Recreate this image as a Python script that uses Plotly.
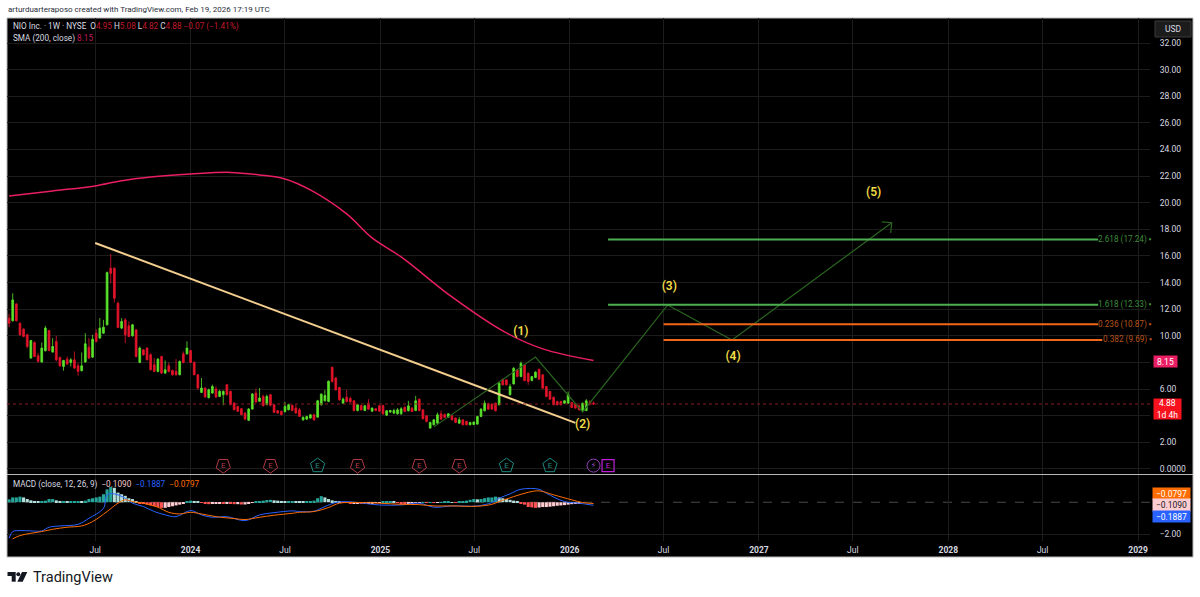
import pandas as pd
import plotly.graph_objects as go

# weekly bars, last one is the week of 2026-02-16
bar_dates = pd.date_range(end="2026-02-16", periods=162, freq="7D")

opens = [11.33,11.13,12.4,10.95,10.5,10.08,8.33,9.5,8.5,8.03,8.88,10.4,8.78,9.58,8.38,7.7,8.25,8.0,8.2,7.75,7.38,8.03,9.15,8.4,10.2,9.83,10.2,
         10.83,15.08,15.08,12.45,10.58,11.2,10.75,10.0,10.45,8.0,8.95,9.08,8.58,7.83,7.33,8.45,7.2,7.75,7.4,7.33,7.08,8.65,8.65,8.9,8.0,7.08,5.75,
         6.08,5.35,5.7,6.0,5.45,5.58,6.33,5.83,4.95,4.7,4.53,4.2,3.65,4.5,5.7,5.08,5.45,4.83,5.58,4.83,4.38,4.33,4.3,4.45,4.78,4.58,4.45,
         3.69,3.74,3.82,4.07,3.89,4.82,5.12,5.07,7.64,6.84,6.12,4.94,5.39,5.29,5.12,4.39,4.77,4.39,4.94,4.34,4.52,4.74,4.77,4.04,4.27,4.19,4.14,
         4.14,4.62,4.37,4.57,4.39,5.24,4.44,3.99,3.07,3.32,3.44,4.14,4.09,3.89,3.99,3.82,3.44,3.69,3.57,3.32,3.34,3.37,3.94,4.37,4.89,4.87,4.94,
         4.82,6.74,6.69,5.57,6.39,7.44,6.94,7.82,7.19,6.64,6.87,7.49,7.07,6.19,5.82,5.39,5.07,5.07,4.94,4.94,4.99,4.89,4.74,4.39,4.39,5.02,4.95]
highs = [11.65,13.2,12.45,11.0,10.58,10.15,9.7,9.58,8.7,9.5,10.75,10.45,9.83,10.0,8.45,8.2,8.45,8.33,8.83,7.95,8.75,10.2,9.83,10.08,10.5,11.33,11.2,
         14.83,16.15,15.15,12.58,11.33,11.33,11.08,10.9,10.5,9.2,9.0,9.15,8.7,8.33,8.33,8.5,8.15,8.0,7.45,8.25,8.15,8.83,9.58,8.95,8.08,7.13,6.83,
         6.13,6.03,6.33,6.2,5.95,5.9,6.38,5.88,5.0,4.75,4.58,4.25,4.58,5.7,6.03,6.08,5.58,5.58,5.63,4.88,4.43,4.38,5.03,4.9,4.83,4.83,4.58,
         3.96,4.0,4.12,4.14,5.19,5.69,5.94,6.64,7.69,6.89,6.17,5.37,5.94,5.44,5.19,4.87,4.82,4.82,5.24,4.62,4.57,4.82,4.82,4.42,4.44,4.52,4.57,
         4.64,4.74,5.12,4.64,5.49,5.29,4.49,4.04,3.56,3.74,4.24,4.39,4.17,4.19,4.04,3.87,3.89,3.74,3.62,3.54,3.57,3.99,4.57,5.14,4.99,4.94,4.99,
         6.57,6.79,6.74,6.39,7.64,7.49,8.07,7.89,7.24,6.99,7.34,7.54,7.12,6.24,5.87,5.44,5.12,5.12,5.17,5.82,5.04,4.94,4.79,4.99,5.24,5.17,5.08]
lows = [10.65,11.08,11.08,10.0,9.9,9.08,8.28,8.4,8.0,8.0,8.83,8.83,8.75,8.08,7.65,7.38,7.83,7.7,7.5,7.0,7.33,8.0,8.25,8.35,9.5,9.78,10.15,
        10.78,13.95,12.5,10.58,10.5,9.45,9.9,9.95,8.38,7.95,8.5,8.15,7.4,7.28,7.25,7.15,7.13,7.25,7.0,7.0,7.03,7.95,8.58,7.95,7.03,5.95,5.7,
        5.35,5.3,5.65,5.33,5.4,4.78,5.5,4.78,4.4,4.28,4.03,3.65,3.6,4.45,4.95,5.03,4.7,4.78,4.7,4.2,4.15,4.03,4.25,4.4,4.35,4.15,3.9,
        3.62,3.7,3.78,3.62,3.86,4.77,5.07,5.02,6.49,5.89,5.12,4.89,4.99,4.94,4.32,4.32,4.37,4.34,4.44,4.29,4.34,4.29,4.07,3.97,4.22,4.14,4.09,
        4.07,4.27,4.32,4.27,4.34,4.32,3.72,3.49,3.02,3.27,3.39,3.69,3.82,3.84,3.64,3.44,3.39,3.27,3.27,3.27,3.29,3.32,3.89,4.32,4.44,4.44,4.32,
        4.77,6.27,6.27,5.52,6.34,6.89,6.89,6.59,6.32,6.59,6.82,6.69,6.02,5.39,5.19,4.77,4.77,4.77,4.89,4.89,4.57,4.52,4.39,4.32,4.34,4.77,4.82]
closes = [10.95,12.7,11.13,10.08,9.95,9.2,9.65,8.45,8.08,9.08,10.58,8.9,9.2,8.2,7.75,8.15,7.88,8.2,7.58,7.33,7.75,9.4,8.33,9.75,9.58,10.58,10.65,
          14.75,14.7,12.83,10.63,11.08,10.08,9.95,10.83,8.45,9.08,8.58,8.2,7.45,7.33,8.25,7.2,7.45,7.33,7.08,7.08,8.08,8.0,9.08,8.0,7.08,6.08,6.08,
          5.4,5.95,6.2,5.4,5.83,5.83,5.58,4.83,4.45,4.33,4.08,3.75,4.5,5.63,5.03,5.33,4.75,5.45,4.78,4.25,4.2,4.08,4.7,4.83,4.4,4.2,3.95,
          3.87,3.94,4.07,3.69,5.12,5.62,5.52,6.59,6.57,5.94,5.19,5.24,5.07,5.04,4.39,4.82,4.44,4.74,4.49,4.57,4.39,4.34,4.14,4.37,4.39,4.39,4.44,
          4.52,4.32,4.74,4.32,5.12,4.39,3.77,3.57,3.49,3.69,4.07,3.74,3.87,4.14,3.69,3.49,3.69,3.32,3.32,3.49,3.52,3.94,4.49,4.94,4.49,4.49,4.37,
          6.44,6.32,6.32,6.19,7.57,6.94,7.94,6.64,6.57,6.94,7.27,6.74,6.07,5.44,5.24,4.82,4.82,4.82,5.12,5.57,4.62,4.57,4.44,4.94,5.12,4.95,4.88]

sma_dates = ["2023-01-16","2023-04-10","2023-07-01","2023-08-18","2023-10-16","2024-01-01","2024-03-18","2024-05-13","2024-07-01","2024-08-19",
             "2024-10-28","2024-12-16","2025-02-10","2025-05-19","2025-08-25","2025-11-10","2026-02-16"]
sma_vals = [20.51,20.89,21.26,21.64,21.94,22.16,22.28,22.09,21.79,20.96,19.16,17.36,15.93,12.92,10.37,9.02,8.15]

trend_dates = ["2023-07-01","2026-01-12"]
trend_vals = [16.98,3.46]

wave_dates = ["2025-04-14","2025-10-27","2026-01-26","2026-07-09","2026-11-10","2027-09-14"]
wave_vals = [3.16,8.41,4.28,12.32,9.69,18.5]
arrow_dates = ["2027-08-26","2027-09-14","2027-09-12"]
arrow_vals = [18.56,18.5,17.73]

wave_labels = ["(1)","(2)","(3)","(4)","(5)"]
wave_label_dates = ["2025-09-29","2026-01-26","2026-07-12","2026-11-12","2027-08-10"]
wave_label_vals = [10.3,3.3,13.7,8.4,20.7]

fib_labels = ["2.618 (17.24)","1.618 (12.33)","0.236 (10.87)","0.382 (9.69)"]
fib_vals = [17.24,12.33,10.87,9.69]
fib_starts = ["2026-03-16","2026-03-16","2026-07-01","2026-07-01"]
fib_ends = ["2028-10-16","2028-10-16","2028-10-16","2028-10-24"]
fib_colors = ["#4CAF50","#4CAF50","#F2661A","#F2661A"]
fib_text_colors = ["#3F8A3C","#3F8A3C","#B8531A","#B8531A"]

earn_bad = ["2024-03-04","2024-06-03","2024-11-18","2025-03-17","2025-06-02"]
earn_good = ["2024-09-02","2025-09-01","2025-11-24"]

# MACD pane lines, sampled at these bar numbers
macd_idx = [0,1,3,6,9,11,14,19,22,26,27,29,32,34,37,40,43,46,50,53,56,60,65,69,73,78,80,84,87,90,92,96,102,108,113,117,122,129,133,135,138,141,146,148,153,157,161]
macd_vals = [-2.25,-1.83,-1.77,-1.79,-1.79,-1.56,-1.48,-1.38,-1.0,-0.38,0.46,0.52,0.25,-0.06,-0.27,-0.58,-0.79,-0.9,-0.52,-0.79,-0.94,-0.9,-1.15,-0.79,-0.65,-0.54,-0.58,
             -0.56,-0.27,-0.02,0.04,-0.02,-0.17,-0.17,-0.06,-0.31,-0.23,-0.23,-0.02,0.25,0.52,0.81,0.81,0.56,0.04,-0.06,-0.19]
signal_idx = [1,3,6,9,12,16,20,23,27,30,32,34,37,41,44,47,50,53,57,62,65,69,73,78,80,84,88,91,96,102,108,113,117,122,129,133,135,139,143,146,150,155,158,161]
signal_vals = [-2.29,-2.08,-1.94,-1.83,-1.69,-1.56,-1.48,-1.21,-0.58,-0.06,0.15,0.04,-0.06,-0.31,-0.63,-0.73,-0.63,-0.73,-0.9,-1.02,-1.08,-0.94,-0.81,-0.69,-0.63,
               -0.58,-0.33,-0.06,-0.02,-0.06,-0.13,-0.15,-0.23,-0.23,-0.25,-0.13,0.04,0.35,0.62,0.71,0.46,0.15,-0.02,-0.08]

hist_vals = [.18,.3,.3,.35,.3,.2,.12,.08,.05,.05,.1,.2,.2,.12,.08,.08,.06,.06,.06,.06,.05,.1,.2,.25,.3,.35,.5,.8,.95,.9,.6,.5,.4,.25,.2,.05,
             -.05,-.1,-.15,-.2,-.25,-.3,-.35,-.35,-.3,-.25,-.2,-.15,-.05,.06,.1,.08,.02,-.04,-.1,-.12,-.1,-.1,-.08,-.1,-.08,-.1,-.12,-.12,-.14,-.14,-.1,-.04,
             .03,.06,.1,.14,.15,.12,.1,.08,.06,.06,.07,.06,.05,.02,.03,.05,.1,.25,.38,.3,.2,.12,.06,.02,-.02,-.04,-.06,-.06,-.05,-.07,-.06,-.06,-.05,-.04,
             -.03,.02,.04,.05,.04,-.03,-.06,-.07,-.07,-.05,-.03,-.02,.01,-.02,.01,-.03,-.01,.01,.02,.03,.01,-.02,.02,.05,.1,.15,.2,.18,.2,.25,.3,.3,.35,.3,.25,
             .2,.15,.1,.08,-.05,-.15,-.3,-.32,-.35,-.33,-.3,-.3,-.28,-.25,-.22,-.2,-.18,-.15,-.12,-.11,-.109]
hist_vals = hist_vals[:162]

price_ticks = list(range(0, 34, 2))
price_text = ["0.0000" if v == 0 else ("" if v in (4, 8) else f"{v}.00") for v in price_ticks]
time_ticks = ["2023-07-01","2024-01-01","2024-07-01","2025-01-01","2025-07-01","2026-01-01","2026-07-01",
              "2027-01-01","2027-07-01","2028-01-01","2028-07-01","2029-01-01"]
time_text = ["Jul","<b>2024</b>","Jul","<b>2025</b>","Jul","<b>2026</b>","Jul","<b>2027</b>","Jul","<b>2028</b>","Jul","<b>2029</b>"]

W, H = 1200, 597
FONT = "Roboto"
TXT = "#D8DAE0"
def px(x): return x / W
def py(y): return 1 - y / H

def hist_colors(vals):
    out = []
    for i, v in enumerate(vals):
        prev = vals[i - 1] if i else v
        if v >= 0:
            out.append("#26A69A" if v >= prev else "#B2DFDB")
        else:
            out.append("#FFCDD2" if v >= prev else "#FF5252")
    return out

fig = go.Figure()
fig.add_trace(go.Candlestick(x=bar_dates, open=opens, high=highs, low=lows, close=closes, whiskerwidth=0,
                             increasing=dict(line=dict(color="#5BE32B", width=0.8), fillcolor="#5BE32B"),
                             decreasing=dict(line=dict(color="#E3142B", width=0.8), fillcolor="#E3142B")))
fig.add_trace(go.Scatter(x=sma_dates, y=sma_vals, mode="lines", line=dict(color="#E91E63", width=1.5, shape="spline")))
fig.add_trace(go.Scatter(x=trend_dates, y=trend_vals, mode="lines", line=dict(color="#F3CE8E", width=2)))
fig.add_trace(go.Scatter(x=wave_dates, y=wave_vals, mode="lines", line=dict(color="#2A6420", width=1.2)))
fig.add_trace(go.Scatter(x=arrow_dates, y=arrow_vals, mode="lines", line=dict(color="#2A6420", width=1.2)))
for i in range(len(fib_vals)):
    fig.add_trace(go.Scatter(x=[fib_starts[i], fib_ends[i]], y=[fib_vals[i], fib_vals[i]], mode="lines",
                             line=dict(color=fib_colors[i], width=2)))
fig.add_trace(go.Scatter(x=wave_label_dates, y=wave_label_vals, mode="text", text=wave_labels,
                         textfont=dict(family=FONT, size=12, color="#F0DC46", weight=600)))

# earnings flags
fig.add_trace(go.Scatter(x=earn_bad, y=[0.25] * len(earn_bad), mode="markers+text", text=["E"] * len(earn_bad),
                         marker=dict(symbol="pentagon-open", angle=180, size=15, color="#B23A48", line=dict(width=1)),
                         textfont=dict(family=FONT, size=8, color="#B23A48")))
fig.add_trace(go.Scatter(x=earn_good, y=[0.25] * len(earn_good), mode="markers+text", text=["E"] * len(earn_good),
                         marker=dict(symbol="pentagon-open", size=15, color="#1F8A80", line=dict(width=1)),
                         textfont=dict(family=FONT, size=8, color="#1F8A80")))
fig.add_trace(go.Scatter(x=["2026-02-16"], y=[0.25], mode="markers+text", text=["⚡"],
                         marker=dict(symbol="circle-open", size=13, color="#8E3FB5", line=dict(width=1)),
                         textfont=dict(family="DejaVu Sans", size=8, color="#A050D0")))
fig.add_trace(go.Scatter(x=["2026-03-16"], y=[0.25], mode="markers+text", text=["E"],
                         marker=dict(symbol="square-open", size=12, color="#C020D8", line=dict(width=1.2)),
                         textfont=dict(family=FONT, size=8, color="#C020D8")))

# MACD pane
fig.add_trace(go.Bar(x=bar_dates, y=hist_vals, marker=dict(color=hist_colors(hist_vals), line=dict(width=0)),
                     xaxis="x2", yaxis="y2"))
fig.add_trace(go.Scatter(x=bar_dates[macd_idx], y=macd_vals, mode="lines", line=dict(color="#2962FF", width=1, shape="spline"),
                         xaxis="x2", yaxis="y2"))
fig.add_trace(go.Scatter(x=bar_dates[signal_idx], y=signal_vals, mode="lines", line=dict(color="#FF6D00", width=1, shape="spline"),
                         xaxis="x2", yaxis="y2"))

xrange = ["2023-01-12", "2029-01-24"]
shapes = [
    dict(type="rect", xref="paper", yref="paper", x0=px(7), x1=px(1193), y0=py(557), y1=py(18),
         fillcolor="#000000", line=dict(color="#B8B8B8", width=1), layer="below"),
    dict(type="line", xref="paper", yref="paper", x0=px(7), x1=px(1193), y0=py(474.5), y1=py(474.5),
         line=dict(color="#B8B8B8", width=1)),
    dict(type="line", xref="x", yref="y", x0=xrange[0], x1=xrange[1], y0=closes[-1], y1=closes[-1],
         line=dict(color="#8A1A22", width=1, dash="dot")),
    dict(type="line", xref="x2", yref="y2", x0=xrange[0], x1=xrange[1], y0=0, y1=0,
         line=dict(color="#4A4A4A", width=1, dash="dash"), layer="below"),
    dict(type="rect", xref="paper", yref="paper", x0=px(1155), x1=px(1191), y0=py(37), y1=py(21),
         fillcolor="#1C1C1C", line=dict(color="#3A3A3A", width=1)),
    # logo
    dict(type="rect", xref="paper", yref="paper", x0=px(7.5), x1=px(15.7), y0=py(576), y1=py(572), fillcolor="#131722", line=dict(width=0)),
    dict(type="rect", xref="paper", yref="paper", x0=px(11.7), x1=px(15.7), y0=py(581.7), y1=py(576), fillcolor="#131722", line=dict(width=0)),
    dict(type="circle", xref="paper", yref="paper", x0=px(16.3), x1=px(20.3), y0=py(576.3), y1=py(572.3), fillcolor="#131722", line=dict(width=0)),
    dict(type="path", xref="paper", yref="paper", fillcolor="#131722", line=dict(width=0),
         path=f"M {px(22)} {py(572)} L {px(27.3)} {py(572)} L {px(22.7)} {py(581.7)} L {px(17.3)} {py(581.7)} Z"),
]

R = "#C2182B"
def note(text, x, y, size=8.5, color=TXT, xanchor="left", yanchor="middle", **kw):
    base = dict(text=text, xref="paper", yref="paper", x=px(x), y=py(y), xanchor=xanchor, yanchor=yanchor,
                showarrow=False, font=dict(family=FONT, size=size, color=color), borderpad=0)
    base.update(kw)
    return base

notes = [
    note("arturduarteraposo created with TradingView.com, Feb 19, 2026 17:19 UTC", 7, 9.5, size=8, color="#2A2E39"),
    note(f'NIO Inc. · 1W · NYSE  O<span style="color:{R}">4.95</span> H<span style="color:{R}">5.08</span> '
         f'L<span style="color:{R}">4.82</span> C<span style="color:{R}">4.88</span> '
         f'<span style="color:{R}">−0.07 (−1.41%)</span>', 12, 27, size=8.2),
    note('SMA (200, close) <span style="color:#C2185B">8.15</span>', 12, 38.5, size=8.2),
    note('MACD (close, 12, 26, 9)  <span style="color:#F5C6CB">−0.1090</span>  '
         '<span style="color:#2962FF">−0.1887</span>  <span style="color:#FF6D00">−0.0797</span>', 12, 484, size=8.2),
    note("USD", 1173, 29, xanchor="center"),
    note("8.15", 1165.5, 361.5, color="#FFFFFF", xanchor="center", bgcolor="#E91E63", width=23, height=11),
    note("4.88<br>1d 4h", 1167.5, 409, color="#FFFFFF", xanchor="center", bgcolor="#F7121E", width=27, height=20),
    note("−0.0797", 1171.5, 493.5, color="#FFFFFF", xanchor="center", bgcolor="#FF6D00", width=37, height=11),
    note("−0.1090", 1171.5, 505, color="#131722", xanchor="center", bgcolor="#FFCDD2", width=37, height=12),
    note("−0.1887", 1171.5, 516, color="#FFFFFF", xanchor="center", bgcolor="#2962FF", width=37, height=11),
    note("TradingView", 32, 577, size=14.5, color="#131722"),
]
for i, lab in enumerate(fib_labels):
    notes.append(dict(text=lab + " ▪", xref="paper", yref="y", x=px(1154), y=fib_vals[i], xanchor="right", yanchor="middle",
                      showarrow=False, font=dict(family=FONT, size=8.2, color=fib_text_colors[i])))

fig.update_layout(
    width=W, height=H, margin=dict(l=0, r=0, t=0, b=0), paper_bgcolor="#FFFFFF", plot_bgcolor="rgba(0,0,0,0)",
    showlegend=False, bargap=0.15, shapes=shapes, annotations=notes,
    xaxis=dict(domain=[px(7), px(1150)], range=xrange, type="date", rangeslider=dict(visible=False), anchor="y",
               tickvals=time_ticks, showticklabels=False, ticks="", gridcolor="#1C1C1C", showline=False, zeroline=False),
    yaxis=dict(domain=[py(474), py(18)], range=[-0.38, 33.88], side="right", anchor="x", tickvals=price_ticks, ticktext=price_text,
               tickfont=dict(family=FONT, size=8.5, color=TXT), ticks="outside", ticklen=7, tickcolor="rgba(0,0,0,0)",
               gridcolor="#1C1C1C", zeroline=False, showline=False),
    xaxis2=dict(domain=[px(7), px(1150)], range=xrange, type="date", matches="x", anchor="y2",
                tickvals=time_ticks, ticktext=time_text, tickfont=dict(family=FONT, size=8.5, color=TXT),
                ticks="outside", ticklen=1, tickcolor="rgba(0,0,0,0)", gridcolor="#1C1C1C", showline=False, zeroline=False),
    yaxis2=dict(domain=[py(541), py(475)], range=[-2.42, 1.7], side="right", anchor="x2", tickvals=[-2], ticktext=["−2.00"],
                tickfont=dict(family=FONT, size=8.5, color=TXT), ticks="outside", ticklen=7, tickcolor="rgba(0,0,0,0)",
                gridcolor="#1C1C1C", zeroline=False, showline=False),
)

fig.write_html("out.html", config=dict(displayModeBar=False), post_script="document.body.style.margin='0';")
